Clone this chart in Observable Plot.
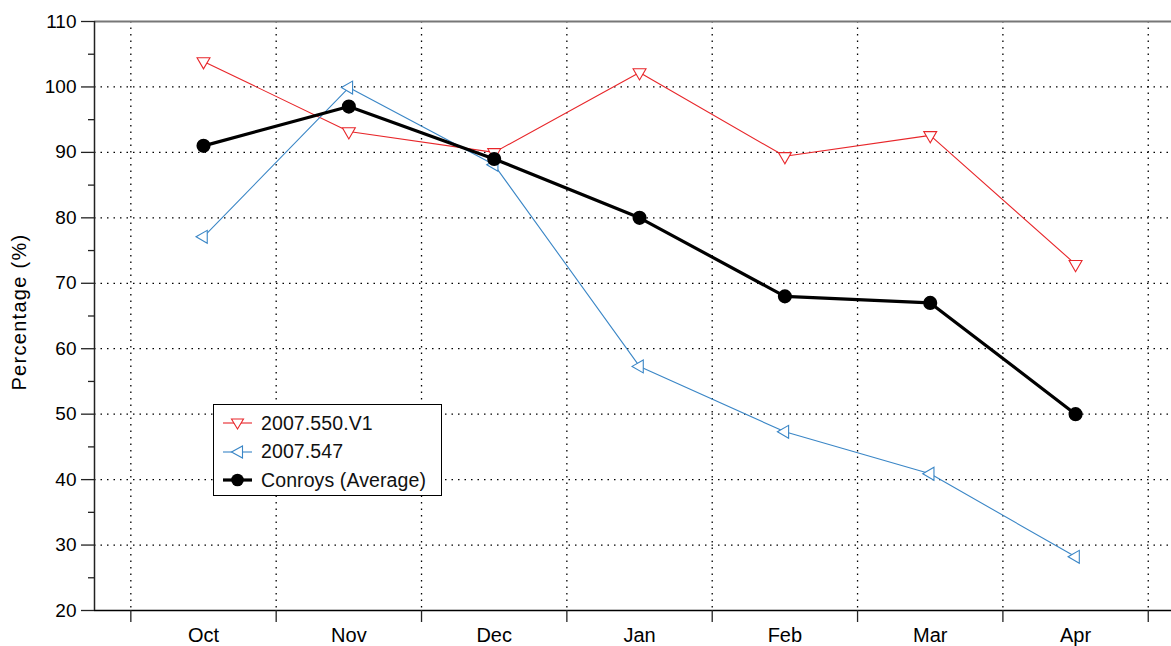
<!DOCTYPE html>
<html>
<head>
<meta charset="utf-8">
<script src="https://cdn.jsdelivr.net/npm/d3@7"></script>
<script src="https://cdn.jsdelivr.net/npm/@observablehq/plot@0.6"></script>
<style>
  html, body { margin: 0; padding: 0; background: #fff; }
  #wrap { position: relative; width: 1171px; height: 646px; font-family: "Liberation Sans", Arial, Helvetica, sans-serif; }
  #legend { position: absolute; left: 213px; top: 404px; width: 227px; height: 90px; border: 1px solid #000; background: #fff; }
  .item { position: absolute; left: 9px; height: 28px; display: flex; align-items: center; font-size: 19.5px; color: #111; letter-spacing: 0.1px; }
  .item svg { margin-right: 9px; }
</style>
</head>
<body>
<div id="wrap"></div>
<script>
const months = ["Oct", "Nov", "Dec", "Jan", "Feb", "Mar", "Apr"];
const seriesNames = ["2007.550.V1", "2007.547", "Conroys (Average)"];
const v1Values = [103.9, 93.2, 90.0, 102.2, 89.4, 92.6, 72.9];
const s547Values = [77.1, 99.9, 88.1, 57.3, 47.3, 40.9, 28.2];
const avgValues = [91, 97, 89, 80, 68, 67, 50];
const yMajor = [20, 30, 40, 50, 60, 70, 80, 90, 100, 110];
const yMinor = [25, 35, 45, 55, 65, 75, 85, 95, 105];
const yGrid = [30, 40, 50, 60, 70, 80, 90, 100];
const xBoundaries = [-0.5, 0.5, 1.5, 2.5, 3.5, 4.5, 5.5, 6.5];
const colors = ["#e8262a", "#3a86c6", "#000000"];

const rows = (vals, name) => vals.map((v, i) => ({i, v, name}));
const r1 = rows(v1Values, seriesNames[0]);
const r2 = rows(s547Values, seriesNames[1]);
const r3 = rows(avgValues, seriesNames[2]);

const dotted = {stroke: "#000", strokeOpacity: 1, strokeWidth: 1.3, strokeDasharray: "1.5,5"};

const chart = Plot.plot({
  width: 1171,
  height: 646,
  marginLeft: 94,
  marginRight: 0,
  marginTop: 21,
  marginBottom: 36,
  style: {fontFamily: "'Liberation Sans', Arial, Helvetica, sans-serif", fontSize: "19px", background: "#fff", color: "#000"},
  x: {type: "linear", domain: [-0.75, 6.66]},
  y: {domain: [20, 110]},
  marks: [
    Plot.gridY(yGrid, dotted),
    Plot.gridX(xBoundaries, dotted),
    Plot.ruleY([110], {stroke: "#777", strokeWidth: 2}),
    Plot.ruleY([20], {stroke: "#000", strokeWidth: 1.5}),
    Plot.ruleX([-0.75], {stroke: "#222", strokeWidth: 1.5}),
    Plot.axisY({ticks: yMajor, tickSize: 13, tickPadding: 5, fontSize: 19, label: null, stroke: "#222", strokeWidth: 1.3}),
    Plot.axisY({ticks: yMinor, tickSize: 6, text: null, label: null, stroke: "#222", strokeWidth: 1.3}),
    Plot.axisX({ticks: xBoundaries, tickSize: 12, text: null, label: null, stroke: "#222", strokeWidth: 1.3}),
    Plot.axisX({ticks: [0, 1, 2, 3, 4, 5, 6], tickSize: 0, tickPadding: 17, fontSize: 20, tickFormat: i => months[i], label: null}),
    Plot.text(["Percentage (%)"], {frameAnchor: "left", textAnchor: "middle", dx: -75, dy: -4, rotate: -90, fontSize: 20}),
    Plot.line(r1, {x: "i", y: "v", stroke: colors[0], strokeWidth: 1.1}),
    Plot.line(r2, {x: "i", y: "v", stroke: colors[1], strokeWidth: 1.1}),
    Plot.line(r3, {x: "i", y: "v", stroke: colors[2], strokeWidth: 3.2}),
    Plot.dot(r1, {x: "i", y: "v", symbol: "triangle", rotate: 180, r: 4.8, stroke: colors[0], fill: "#fff", strokeWidth: 1.1}),
    Plot.dot(r2, {x: "i", y: "v", symbol: "triangle", rotate: -90, r: 4.8, stroke: colors[1], fill: "#fff", strokeWidth: 1.1}),
    Plot.dot(r3, {x: "i", y: "v", r: 6.3, fill: colors[2], stroke: colors[2]})
  ]
});

const wrap = document.getElementById("wrap");
wrap.appendChild(chart);
// letter spacing for the y-axis title
chart.querySelectorAll("text").forEach(t => { if (t.textContent === "Percentage (%)") t.setAttribute("letter-spacing", "1.3"); });

const legend = document.createElement("div");
legend.id = "legend";
const syms = [
  `<polygon points="-6,-4 6,-4 0,6" transform="translate(14.5,10)" fill="#fff" stroke="${colors[0]}" stroke-width="1.1"/>`,
  `<polygon points="-6,0 5,-6 5,6" transform="translate(14.5,10)" fill="#fff" stroke="${colors[1]}" stroke-width="1.1"/>`,
  `<circle cx="14.5" cy="10" r="6.3" fill="#000"/>`
];
seriesNames.forEach((name, k) => {
  const it = document.createElement("div");
  it.className = "item";
  it.style.top = (4 + k * 28.5) + "px";
  const sw = k === 2 ? 3.2 : 1.1;
  it.innerHTML = `<svg width="29" height="20"><line x1="0" x2="29" y1="10" y2="10" stroke="${colors[k]}" stroke-width="${sw}"/>${syms[k]}</svg><span>${name}</span>`;
  legend.appendChild(it);
});
wrap.appendChild(legend);
</script>
</body>
</html>
